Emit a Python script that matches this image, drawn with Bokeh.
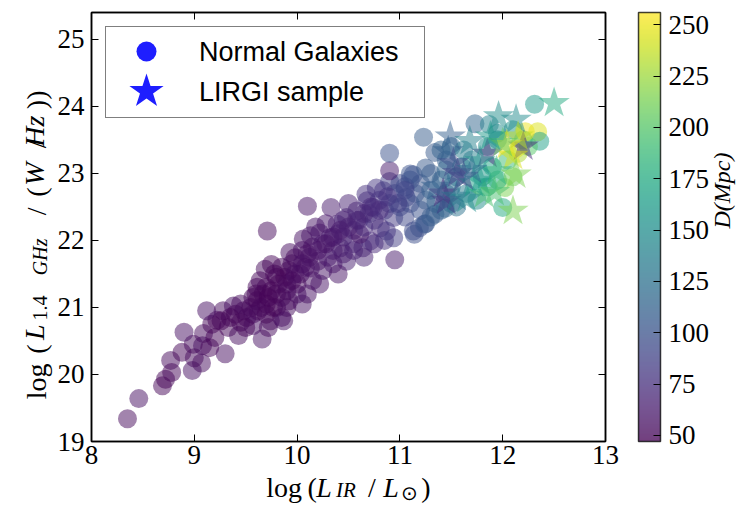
import math
from bokeh.plotting import figure
from bokeh.models import (ColumnDataSource, LinearColorMapper, ColorBar, FixedTicker, Range1d,
                          LinearAxis, Legend, LegendItem, CustomJSTickFormatter)
from bokeh.palettes import Viridis256
from bokeh.transform import transform
from bokeh.embed import file_html
from bokeh.resources import INLINE

# ---------------- data ----------------
gal_logLIR = [
    8.35, 8.46, 8.69, 8.72, 8.78, 8.77, 8.98, 9.07, 8.88, 8.99,
    9.08, 8.90, 9.09, 9.30, 9.17, 9.22, 9.28, 9.38, 9.33, 9.43,
    9.45, 9.51, 9.57, 9.66, 9.72, 9.61, 9.85, 9.80, 9.26, 9.40,
    9.48, 9.55, 9.62, 9.70, 9.74, 9.87, 9.57, 9.77, 9.90, 9.57,
    9.67, 9.69, 9.75, 9.93, 9.98, 9.80, 9.61, 9.64, 9.90, 10.00,
    10.05, 10.03, 10.22, 9.71, 9.70, 9.75, 9.82, 9.85, 9.95, 9.92,
    9.85, 9.88, 10.08, 10.13, 10.10, 10.06, 10.13, 10.22, 10.15, 10.20,
    10.30, 10.32, 10.42, 10.39, 10.48, 10.48, 10.10, 10.33, 10.25, 10.35,
    10.28, 10.18, 10.15, 10.25, 10.35, 10.40, 10.00, 9.95, 10.05, 9.78,
    10.45, 10.55, 10.55, 10.40, 10.58, 10.68, 10.74, 10.84, 10.81, 10.64,
    10.71, 10.61, 10.60, 10.65, 10.75, 10.70, 10.85, 10.90, 10.80, 10.95,
    10.77, 10.67, 10.90, 10.45, 10.55, 10.65, 10.75, 10.85, 10.94, 10.94,
    10.87, 10.95, 10.50, 10.45,
    11.06, 11.13, 11.00, 11.05, 11.10, 11.15, 11.20, 11.25, 11.20, 11.10,
    11.00, 11.13, 11.19, 11.25, 11.14, 11.24, 11.34, 11.44, 11.30, 11.35,
    11.40, 11.30, 11.10, 11.25, 11.05, 10.90, 10.90, 11.23, 11.34, 11.40,
    11.50, 11.45, 11.40, 11.30, 11.50, 11.45, 11.50, 11.55, 11.45,
    11.60, 11.73, 11.87, 12.31, 12.34, 12.36, 12.10, 12.02, 12.00, 11.95,
    11.85, 12.20, 12.25, 11.70, 11.80, 11.90, 12.05, 12.15, 11.65, 11.75,
    11.85, 11.95, 12.10, 11.62, 11.55, 11.95, 12.22,
    9.60, 9.65, 9.72, 9.80, 9.90, 9.98, 10.05, 10.12, 10.20, 10.28,
    10.35, 10.42, 10.50, 10.58, 10.65, 10.72, 10.80, 10.88, 10.98, 11.05,
    9.50, 9.45, 9.35, 9.20, 9.15, 9.00, 9.12, 9.70, 9.92, 10.10,
]
gal_logL14 = [
    19.34, 19.64, 19.83, 19.93, 20.03, 20.21, 20.06, 20.17, 20.33, 20.45,
    20.43, 20.63, 20.61, 20.31, 20.75, 20.81, 20.95, 21.02, 20.70, 20.58,
    20.78, 20.85, 20.73, 20.53, 20.70, 21.10, 20.85, 21.00, 20.80, 20.90,
    20.95, 21.00, 20.95, 21.05, 20.80, 20.80, 20.90, 21.00, 21.00, 21.15,
    21.20, 21.57, 21.64, 21.82, 21.74, 21.45, 21.30, 21.40, 21.25, 21.20,
    21.05, 21.50, 21.35, 22.14, 21.30, 21.25, 21.35, 21.15, 21.40, 21.55,
    21.60, 21.45, 21.60, 21.59, 21.80, 22.02, 22.07, 22.11, 21.90, 21.69,
    21.75, 22.04, 21.89, 22.24, 22.34, 21.69, 22.51, 22.49, 21.95, 21.85,
    22.25, 22.20, 21.40, 21.55, 21.65, 21.50, 21.35, 21.65, 21.85, 21.50,
    22.05, 22.15, 21.95, 22.10, 22.44, 22.59, 22.49, 22.74, 22.19, 21.89,
    21.99, 22.09, 22.30, 22.20, 22.30, 22.40, 22.45, 22.55, 22.60, 22.70,
    22.78, 22.69, 22.88, 21.80, 21.85, 21.75, 21.95, 22.00, 22.34, 22.04,
    22.14, 21.71, 22.55, 22.30,
    22.64, 22.14, 22.50, 22.35, 22.55, 22.70, 22.45, 22.60, 22.85, 22.90,
    22.85, 22.98, 22.19, 22.25, 22.09, 22.24, 22.39, 22.48, 22.75, 22.55,
    22.90, 23.00, 22.99, 23.08, 22.80, 23.04, 23.30, 23.54, 23.31, 23.35,
    23.40, 23.20, 22.45, 22.35, 22.55, 22.70, 22.80, 22.95, 23.05,
    23.10, 23.74, 23.73, 24.03, 23.62, 23.48, 23.65, 22.79, 22.49, 23.50,
    23.40, 23.50, 23.40, 23.20, 22.95, 23.10, 23.20, 23.30, 22.70, 22.60,
    22.80, 22.90, 22.95, 23.35, 22.50, 23.60, 23.62,
    21.20, 21.00, 21.15, 21.20, 21.35, 21.50, 21.65, 21.75, 21.85, 21.95,
    22.05, 22.15, 22.20, 22.30, 22.40, 22.50, 22.45, 22.65, 22.55, 22.75,
    20.70, 21.05, 20.85, 20.55, 20.40, 20.25, 20.95, 20.90, 21.10, 21.20,
]
gal_D = [
    52, 55, 50, 48, 50, 52, 55, 53, 50, 52,
    55, 55, 52, 54, 50, 48, 52, 55, 50, 53,
    49, 51, 55, 56, 52, 50, 54, 50, 48, 50,
    52, 49, 51, 50, 53, 55, 52, 50, 53, 48,
    50, 52, 50, 54, 52, 50, 49, 51, 53, 55,
    56, 53, 57, 52, 50, 48, 50, 52, 51, 50,
    49, 48, 53, 55, 52, 55, 58, 60, 56, 58,
    60, 62, 64, 65, 66, 64, 58, 62, 60, 62,
    60, 58, 55, 58, 60, 58, 52, 53, 55, 50,
    64, 66, 68, 63, 70, 72, 75, 78, 70, 68,
    72, 58, 70, 72, 74, 75, 80, 85, 78, 88,
    80, 76, 85, 62, 65, 66, 70, 75, 82, 85,
    80, 62, 66, 65,
    90, 95, 90, 92, 95, 98, 100, 105, 102, 96,
    92, 100, 98, 104, 96, 102, 108, 115, 110, 112,
    115, 108, 100, 105, 95, 62, 100, 108, 105, 112,
    118, 110, 112, 108, 120, 118, 120, 125, 115,
    130, 115, 140, 160, 245, 165, 155, 215, 175, 145,
    150, 180, 200, 140, 160, 170, 190, 230, 135, 150,
    170, 180, 210, 135, 125, 150, 250,
    50, 52, 48, 50, 52, 54, 55, 56, 57, 58,
    60, 62, 64, 66, 68, 70, 72, 78, 85, 90,
    50, 52, 50, 48, 50, 52, 55, 50, 52, 55,
]

lirgi_logLIR = [
    12.50, 11.49, 11.96, 12.13, 11.85, 12.20, 12.04, 12.10, 11.56, 11.47,
    11.42, 11.45, 11.82, 11.65, 12.10, 11.78, 11.94, 11.68, 11.78, 11.55,
    11.72, 12.15, 12.00, 11.92, 11.52, 11.62, 11.70, 11.88, 12.13, 11.35,
]
lirgi_logL14 = [
    24.05, 23.55, 23.85, 23.80, 23.29, 23.40, 23.42, 23.26, 23.00, 23.33,
    22.70, 22.59, 22.69, 22.62, 22.44, 22.89, 23.03, 23.48, 23.18, 22.65,
    22.85, 23.55, 23.45, 22.72, 23.15, 22.95, 23.05, 23.55, 22.98, 22.80,
]
lirgi_D = [
    175, 110, 150, 148, 75, 70, 250, 245, 85, 110,
    72, 85, 195, 150, 215, 160, 185, 140, 155, 130,
    165, 235, 205, 195, 95, 90, 120, 160, 215, 110,
]

x_ticks = [8, 9, 10, 11, 12, 13]
y_ticks = [19, 20, 21, 22, 23, 24, 25]
cbar_ticks = [50, 75, 100, 125, 150, 175, 200, 225, 250]
legend_labels = ["Normal Galaxies", "LIRGI sample"]

# ---------------- figure ----------------
SERIF = "Liberation Serif"
SANS = "Liberation Sans"
X0, X1, Y0, Y1 = 8, 13, 19, 25.4
FL, FR, FT, FB = 91, 606, 12, 441          # frame edges in canvas px

p = figure(width=751, height=512, output_backend="svg", toolbar_location=None,
           x_range=Range1d(X0, X1), y_range=Range1d(Y0, Y1),
           min_border_left=FL, min_border_right=751 - FR, min_border_top=FT,
           min_border_bottom=512 - FB)
p.background_fill_color = "white"
p.border_fill_color = "white"
p.grid.visible = False
p.outline_line_color = "black"
p.outline_line_width = 1.5

mapper = LinearColorMapper(palette=Viridis256, low=47, high=256)

gal_src = ColumnDataSource(dict(x=gal_logLIR, y=gal_logL14, d=gal_D))
lir_src = ColumnDataSource(dict(x=lirgi_logLIR, y=lirgi_logL14, d=lirgi_D))

p.scatter("x", "y", source=gal_src, marker="circle", size=19,
          fill_color=transform("d", mapper), fill_alpha=0.5, line_color=None)
p.scatter("x", "y", source=lir_src, marker="star", size=33,
          fill_color=transform("d", mapper), fill_alpha=0.5, line_color=None)

for ax in (p.xaxis[0], p.yaxis[0]):
    ax.axis_line_width = 1.5
    ax.major_tick_in = 7
    ax.major_tick_out = 0
    ax.minor_tick_line_color = None
    ax.major_label_text_font = SERIF
    ax.major_label_text_font_size = "27px"
    ax.major_label_text_color = "black"
p.xaxis.major_label_standoff = 4
p.yaxis.major_label_standoff = 7
p.xaxis.ticker = FixedTicker(ticks=x_ticks)
p.yaxis.ticker = FixedTicker(ticks=y_ticks)

empty_fmt = CustomJSTickFormatter(code="return ''")
top_ax = LinearAxis(ticker=FixedTicker(ticks=x_ticks), formatter=empty_fmt,
                    major_tick_in=7, major_tick_out=0, minor_tick_line_color=None,
                    axis_line_width=1.5, major_label_standoff=0)
right_ax = LinearAxis(ticker=FixedTicker(ticks=y_ticks), formatter=empty_fmt,
                      major_tick_in=7, major_tick_out=0, minor_tick_line_color=None,
                      axis_line_width=1.5, major_label_standoff=0)
p.add_layout(top_ax, "above")
p.add_layout(right_ax, "right")

# ---------------- legend ----------------
nan = float("nan")
leg_hidden1 = p.scatter(x=[nan], y=[nan], marker="circle", fill_alpha=0, line_color=None)
leg_hidden2 = p.scatter(x=[nan], y=[nan], marker="star", fill_alpha=0, line_color=None)
leg_c = p.scatter(x=[nan], y=[nan], marker="circle", fill_color="#1e1eff", line_color=None)
leg_s = p.scatter(x=[nan], y=[nan], marker="star", fill_color="#1e1eff", line_color=None)

legend = Legend(items=[LegendItem(label=legend_labels[0], renderers=[leg_hidden1]),
                       LegendItem(label=legend_labels[1], renderers=[leg_hidden2])],
                location="top_left", margin=14, padding=5, spacing=0,
                glyph_width=70, glyph_height=40, label_height=30, label_width=220,
                label_standoff=18,
                label_text_font=SANS, label_text_font_size="27px", label_text_color="black",
                border_line_color="black", border_line_width=1.5,
                background_fill_color="white", background_fill_alpha=1.0)
p.add_layout(legend)


def marker_legend(renderer, box, loc):
    lg = Legend(items=[LegendItem(label=" ", renderers=[renderer])],
                location=loc, margin=0, padding=0, spacing=0,
                glyph_width=box, glyph_height=box, label_width=0, label_standoff=0,
                label_text_font_size="1px",
                border_line_color=None, background_fill_alpha=0.0)
    p.add_layout(lg)


marker_legend(leg_c, 50, (30, 365))
marker_legend(leg_s, 90, (10, 305))

# ---------------- colour bar ----------------
cb = ColorBar(color_mapper=mapper, ticker=FixedTicker(ticks=cbar_ticks),
              width=22, height=FB - FT, location=(638 - FL, 0), padding=0, margin=0,
              scale_alpha=0.75, bar_line_color="black", bar_line_width=1.5,
              major_tick_in=7, major_tick_out=0, major_tick_line_color="black",
              minor_tick_line_color=None, label_standoff=8,
              major_label_text_font=SERIF, major_label_text_font_size="27px",
              major_label_text_color="black",
              border_line_color=None, background_fill_color=None)
p.add_layout(cb)

# ---------------- axis titles: text pieces carried as tick labels of extra axes ----------------
def xd(px):
    return round(X0 + (px - FL) * (X1 - X0) / (FR - FL), 5)

def yd(py):
    return round(Y0 + (FB - py) * (Y1 - Y0) / (FB - FT), 5)

def text_axis(side, pieces, size, italic, standoff, conv, angle=None):
    ticks = [conv(c) for _, c in pieces]
    ax = LinearAxis(ticker=FixedTicker(ticks=ticks),
                    major_label_overrides={t: s for t, (s, _) in zip(ticks, pieces)},
                    axis_line_color=None, major_tick_line_color=None,
                    minor_tick_line_color=None, major_tick_out=0, major_tick_in=0,
                    major_label_standoff=standoff,
                    major_label_text_font=SERIF, major_label_text_font_size=f"{size}px",
                    major_label_text_font_style="italic" if italic else "normal",
                    major_label_text_color="black")
    if angle is not None:
        ax.major_label_orientation = angle
    p.add_layout(ax, side)
    return ax

# x title: log (L_IR / L_sun) -- subscripts first so that later axes add no height
text_axis("below", [("IR", 346)], 21, True, 11, xd)
text_axis("below", [("\u2299", 410)], 20, False, -23, xd)
text_axis("below", [("log", 284), ("(", 312), ("/", 372), (")", 426)], 28, False, -35, xd)
text_axis("below", [("L", 324), ("L", 391)], 28, True, -35, xd)

# y title: log(L_{1.4 GHz}/(W/Hz)) -- rotated pieces centred at canvas y
R = math.pi / 2
text_axis("left", [("log", 363), ("(", 344), ("/", 207), ("(", 187), ("/", 140), ("))", 90)],
          28, False, 18, yd, R)
text_axis("left", [("L", 324), ("W", 162), ("Hz", 115)], 28, True, -32, yd, R)
text_axis("left", [("1.4", 295)], 20, False, -40, yd, R)
text_axis("left", [("GHz", 238)], 20, True, -40, yd, R)

# colour-bar title (reads bottom to top)
text_axis("right", [("D(Mpc)", 228)], 24, True, 117, yd, R)

open("out.html", "w").write(file_html(p, INLINE))
